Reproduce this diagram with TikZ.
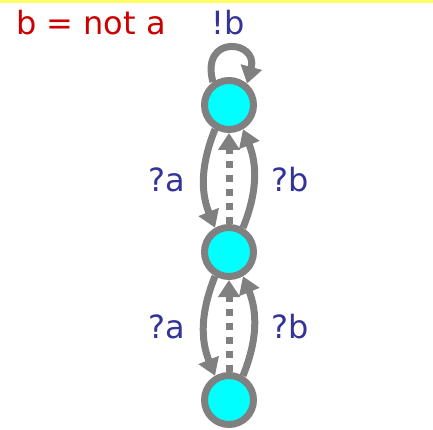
\documentclass[tikz,border=0pt]{standalone}
\usepackage{fontspec}
\setmainfont{DejaVu Sans}
\usetikzlibrary{arrows.meta}
\definecolor{stategray}{RGB}{128,128,128}
\definecolor{statecyan}{RGB}{0,255,255}
\definecolor{labelblue}{RGB}{51,51,153}
\definecolor{notered}{RGB}{204,0,0}
\definecolor{banneryellow}{RGB}{255,255,102}

\begin{document}
\begin{tikzpicture}[x=1pt,y=1pt]
\useasboundingbox (0,0) rectangle (433,429);
\fill [banneryellow] (0,426) rectangle (433,429);
\begin{scope}[every node/.style={circle,draw=stategray,fill=statecyan,line width=7pt,minimum size=49pt,inner sep=0pt}]
    \node (s0) at (229,324) {};
    \node (s1) at (229,177) {};
    \node (s2) at (229,29) {};
\end{scope}
\begin{scope}[every node/.style={inner sep=0pt,font=\fontsize{32}{38}\selectfont}]
    \node [text=notered] (note) at (91,406) {b = not a};
    \node [text=labelblue] (l00) at (228,406) {!b};
    \node [text=labelblue] (l01) at (167,249) {?a};
    \node [text=labelblue] (l10) at (290,249) {?b};
    \node [text=labelblue] (l12) at (167,102) {?a};
    \node [text=labelblue] (l21) at (290,102) {?b};
\end{scope}
\begin{scope}[>={Triangle[length=17pt,width=21pt]},
              gray_edge/.style={draw=stategray,line width=7pt},
              dot_edge/.style={draw=stategray,line width=7pt,dash pattern=on 7pt off 7pt}]
    \draw [->, gray_edge] (s0.125) .. controls +(105:50) and +(75:45) .. (s0.50);
    \path [->] (s0.240) edge [gray_edge, bend right=22] (s1.120);
    \path [->] (s1.60) edge [gray_edge, bend right=22] (s0.300);
    \path [->] (s1.north) edge [dot_edge] (s0.south);
    \path [->] (s1.240) edge [gray_edge, bend right=22] (s2.120);
    \path [->] (s2.60) edge [gray_edge, bend right=22] (s1.300);
    \path [->] (s2.north) edge [dot_edge] (s1.south);
\end{scope}
\end{tikzpicture}
\end{document}
